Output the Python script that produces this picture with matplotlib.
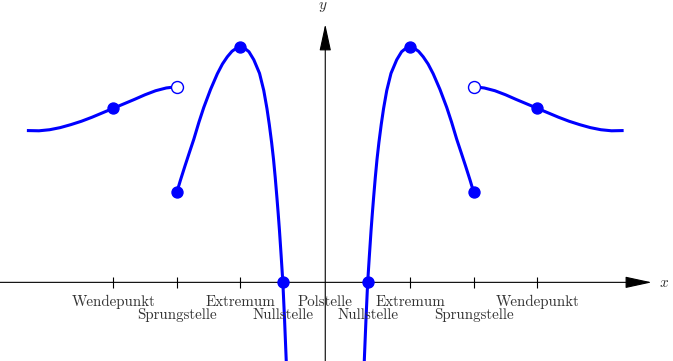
import matplotlib
matplotlib.use('Agg')
import matplotlib.pyplot as plt

plt.rcParams['mathtext.fontset'] = 'cm'

# right half of the graph (left half is the mirror image)
inner_x = [1.80, 1.84, 1.92, 2.0, 2.08, 2.16, 2.22, 2.28, 2.36, 2.44, 2.53, 2.64,
           2.75, 2.90, 3.10, 3.37, 3.60, 3.80, 4.0, 4.20, 4.40, 4.62, 4.85, 5.09,
           5.41, 5.73, 5.96, 6.20, 6.40, 6.62, 6.83, 7.0]
inner_y = [-4.6, -3.71, -1.75, 0.0, 1.25, 2.45, 3.25, 4.0, 4.95, 5.8, 6.6, 7.45,
           8.2, 9.05, 9.86, 10.5, 10.88, 11.04, 11.1, 11.04, 10.9, 10.64, 10.3, 9.84,
           9.1, 8.25, 7.55, 6.75, 6.15, 5.48, 4.82, 4.25]
outer_x = [7.0, 7.5, 8.0, 8.5, 9.0, 9.5, 10.0, 10.5, 11.0, 11.5, 12.0, 12.5, 13.0,
           13.5, 14.0]
outer_y = [9.23, 9.17, 9.04, 8.85, 8.63, 8.42, 8.21, 8.0, 7.79, 7.6, 7.44, 7.3, 7.2,
           7.15, 7.16]

filled_x = [2.0, 4.0, 7.0, 10.0]
filled_y = [0.0, 11.1, 4.25, 8.21]
open_x = [7.0]
open_y = [9.23]

tick_pos = [2, 4, 7, 10]
row1 = {0: 'Polstelle', 4: 'Extremum', -4: 'Extremum', 10: 'Wendepunkt', -10: 'Wendepunkt'}
row2 = {2: 'Nullstelle', -2: 'Nullstelle', 7: 'Sprungstelle', -7: 'Sprungstelle'}

fig = plt.figure(figsize=(6.73, 3.61), dpi=100)
ax = fig.add_axes([0, 0, 1, 1])
ax.set_xlim(-15.34, 16.40)
ax.set_ylim(-3.71, 13.32)
ax.axis('off')

blue = '#0000ff'
lw = 2.2
for s in (1, -1):
    ax.plot([s * v for v in inner_x], inner_y, color=blue, lw=lw, zorder=3,
            solid_joinstyle='round')
    ax.plot([s * v for v in outer_x], outer_y, color=blue, lw=lw, zorder=3,
            solid_joinstyle='round')
    ax.plot([s * v for v in filled_x], filled_y, 'o', color=blue, ms=7.9, zorder=4)
    ax.plot([s * v for v in open_x], open_y, 'o', mfc='white', mec=blue, mew=1.0,
            ms=8.6, zorder=4)

# axes with arrows
arr = dict(arrowstyle='-|>,head_length=0.83,head_width=0.18', mutation_scale=20,
           color='black', lw=0.8, shrinkA=0, shrinkB=0)
ax.annotate('', xy=(15.4, 0), xytext=(-15.34, 0), arrowprops=arr, zorder=2)
ax.annotate('', xy=(0, 12.18), xytext=(0, -3.71), arrowprops=arr, zorder=2)
ax.text(16.0, 0, '$x$', fontsize=11, color='#333333', ha='center', va='center')
ax.text(-0.1, 13.0, '$y$', fontsize=11, color='#333333', ha='center', va='center')

for t in tick_pos:
    ax.vlines([t, -t], -0.25, 0.25, color='black', lw=0.8, zorder=2)

for x, lab in row1.items():
    ax.text(x, -1.10, lab, fontsize=10.8, family='cmr10', color='#333333',
            ha='center', va='baseline')
for x, lab in row2.items():
    ax.text(x, -1.72, lab, fontsize=10.8, family='cmr10', color='#333333',
            ha='center', va='baseline')

fig.savefig('out.png', dpi=100)
